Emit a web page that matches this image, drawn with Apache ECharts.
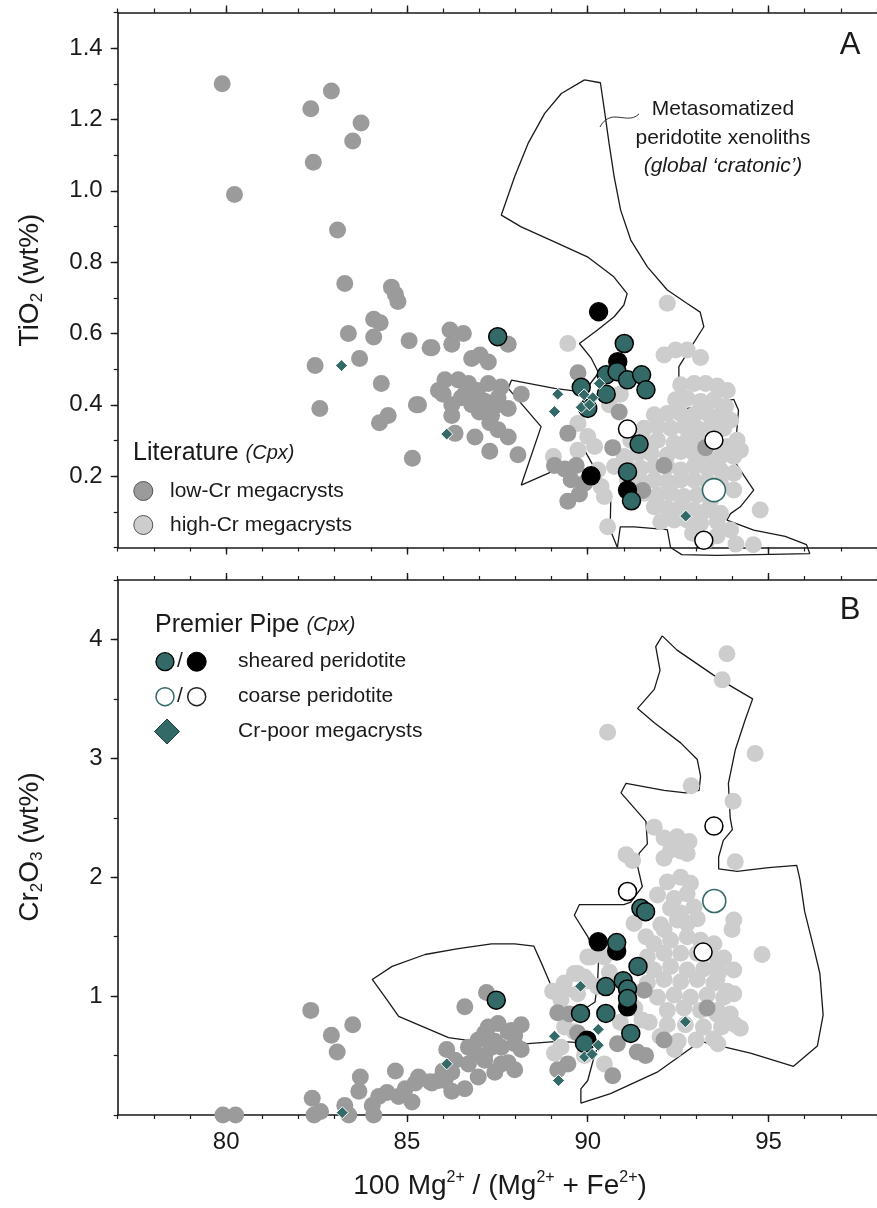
<!DOCTYPE html>
<html>
<head>
<meta charset="utf-8">
<title>Cpx TiO2 and Cr2O3 vs Mg#</title>
<script src="https://cdn.jsdelivr.net/npm/echarts@6/dist/echarts.min.js"></script>
<style>
html,body{margin:0;padding:0;background:#fff;}
#chart{width:877px;height:1208px;}
</style>
</head>
<body>
<div id="chart"></div>
<script>
// ---------- axis ticks ----------
const xMajorTicks = [80, 85, 90, 95];
const xRange = [77, 98];
const tiRange = [0, 1.5];
const crRange = [0, 4.5];

// ---------- panel A: TiO2 (wt%) ----------
// outline of the metasomatized peridotite xenolith field
const fieldA = [
[89.91,1.311],[90.35,1.303],[90.46,1.227],[90.59,1.133],[90.73,1.040],[90.91,0.946],[91.19,0.862],[91.65,0.787],
[92.20,0.722],[92.75,0.684],[93.11,0.660],[93.21,0.619],[92.52,0.507],[92.52,0.385],[93.72,0.409],[94.04,0.415],
[94.17,0.385],[94.10,0.300],[94.04,0.245],[94.22,0.217],[94.59,0.161],[94.22,0.114],[93.95,0.095],[93.85,0.077],
[94.59,0.049],[95.46,0.031],[96.05,0.008],[96.14,-0.017],[93.57,-0.022],[92.60,-0.020],[92.29,0.000],[92.20,0.050],
[91.28,0.058],[90.90,0.058],[90.82,0.000],[90.62,0.050],[90.64,0.152],[90.27,0.208],[89.91,0.273],[89.45,0.236],
[88.90,0.208],[88.16,0.175],[88.71,0.339],[87.80,0.446],[87.89,0.469],[89.08,0.446],[89.72,0.438],[90.00,0.450],
[90.30,0.490],[90.10,0.530],[89.77,0.572],[90.27,0.610],[90.73,0.647],[91.00,0.680],[91.09,0.712],[90.72,0.759],
[89.99,0.815],[89.08,0.857],[88.16,0.899],[87.61,0.932],[87.98,1.040],[88.35,1.133],[88.81,1.217],[89.27,1.273],
[89.91,1.311]
];
const lowCrA = [
[79.89,1.30],[80.23,0.99],[82.34,1.23],[82.91,1.28],[83.73,1.19],[83.50,1.14],[82.41,1.08],[83.08,0.89],
[83.28,0.74],[84.57,0.73],[84.68,0.71],[84.75,0.69],[84.08,0.64],[84.26,0.63],[83.38,0.60],[84.08,0.59],
[85.06,0.58],[85.64,0.56],[83.69,0.53],[82.46,0.51],[84.29,0.46],[85.26,0.40],[82.59,0.39],[84.48,0.37],
[84.24,0.35],[85.15,0.25],
[86.19,0.61],[86.56,0.60],[85.69,0.56],[86.24,0.57],[86.79,0.53],[87.02,0.54],[87.25,0.52],[87.80,0.57],
[86.05,0.47],[86.42,0.47],[86.70,0.46],[87.25,0.46],[88.16,0.43],[85.32,0.40],[86.24,0.40],[86.79,0.40],
[87.15,0.41],[87.52,0.40],[87.80,0.39],[86.24,0.37],[87.29,0.35],[87.52,0.33],[87.80,0.31],[86.33,0.32],
[86.88,0.31],[87.29,0.27],[88.07,0.26],[86.60,0.43],[85.87,0.44],[86.50,0.42],[86.95,0.44],[87.00,0.38],
[86.00,0.43],[87.60,0.45],[87.34,0.37],[87.52,0.42],
[89.73,0.49],[89.45,0.32],[90.87,0.38],[90.69,0.28],[89.08,0.23],[89.36,0.22],[89.68,0.23],[89.54,0.19],
[89.91,0.18],[89.45,0.13],[89.77,0.15],[91.52,0.16],[92.11,0.23],[93.26,0.28]
];
const highCrA = [
[89.45,0.572],[92.20,0.685],[92.11,0.540],[92.43,0.554],[92.75,0.554],[93.12,0.533],
[92.57,0.456],[92.94,0.460],[93.26,0.460],[93.58,0.453],[93.86,0.440],
[92.43,0.414],[92.75,0.418],[93.12,0.409],[93.49,0.414],[93.81,0.395],
[91.84,0.372],[92.20,0.376],[92.57,0.376],[92.94,0.372],[93.31,0.376],[93.67,0.372],[93.95,0.357],
[89.73,0.348],[90.00,0.311],[91.56,0.334],[91.93,0.339],[92.30,0.334],[92.66,0.339],[93.03,0.334],[93.40,0.339],[93.76,0.334],[94.13,0.301],
[91.19,0.301],[91.56,0.297],[91.93,0.301],[92.39,0.292],[92.75,0.301],[93.12,0.301],[93.86,0.283],[94.22,0.273],
[89.73,0.273],[90.19,0.283],[91.01,0.255],[91.38,0.264],[91.75,0.264],[92.20,0.259],[92.57,0.269],[92.94,0.264],[93.31,0.245],[93.67,0.255],[94.04,0.255],
[90.28,0.217],[90.74,0.227],[91.10,0.227],[91.47,0.222],[91.84,0.227],[92.20,0.227],[92.57,0.217],[92.94,0.227],[93.31,0.222],[93.67,0.217],[94.04,0.208],
[90.37,0.171],[91.10,0.189],[91.47,0.185],[91.84,0.189],[92.20,0.185],[92.57,0.189],[92.94,0.189],[93.31,0.185],[93.67,0.180],
[90.46,0.143],[91.56,0.152],[91.93,0.147],[92.30,0.152],[92.66,0.143],[93.03,0.147],[93.40,0.133],[94.04,0.161],
[91.84,0.114],[92.20,0.110],[92.57,0.114],[92.94,0.105],[93.31,0.105],[93.67,0.096],[94.77,0.105],
[90.55,0.058],[92.02,0.072],[92.39,0.077],[92.75,0.077],[93.12,0.068],[93.58,0.072],[93.95,0.049],
[93.58,0.033],[94.10,0.010],[94.58,0.008],[92.90,0.040],[93.30,0.020],
[89.05,0.255],[90.90,0.430],[90.60,0.400]
];
const shearedA = [
[87.51,0.591],[91.01,0.572],[90.51,0.484],[90.81,0.493],[91.10,0.470],[91.49,0.484],[91.61,0.442],
[89.82,0.449],[90.51,0.430],[90.00,0.390],[91.42,0.290],[91.10,0.212],[91.21,0.131]
];
const shearedBlackA = [[90.30,0.661],[90.83,0.521],[90.09,0.201],[91.10,0.161]];
const coarseA = [[91.10,0.332],[93.49,0.301],[93.21,0.020]];
const coarseTealA = [[93.49,0.161]];
const crPoorA = [
[83.19,0.510],[86.10,0.318],[89.17,0.430],[89.08,0.381],[92.71,0.088],
[89.90,0.428],[90.14,0.420],[90.32,0.460],[89.82,0.393],[90.05,0.400]
];

// ---------- panel B: Cr2O3 (wt%) ----------
const fieldB = [
[92.06,4.03],[92.47,3.91],[93.48,3.70],[93.89,3.62],[94.56,3.50],[94.35,3.32],[94.08,3.07],[93.89,2.79],
[93.94,2.50],[94.00,2.40],[93.75,2.31],[93.62,2.17],[93.62,2.07],[94.13,2.05],[95.00,2.08],[95.78,2.10],
[95.87,1.98],[96.00,1.71],[96.28,1.37],[96.42,1.19],[96.51,0.84],[96.35,0.58],[95.69,0.41],[94.50,0.52],
[93.12,0.62],[91.92,0.36],[90.63,0.18],[89.81,0.10],[89.81,0.22],[90.00,0.29],[90.14,0.45],[90.30,0.60],
[89.17,0.62],[88.35,0.60],[86.88,0.62],[86.15,0.65],[84.77,0.83],[84.40,0.99],[84.04,1.14],[84.59,1.25],
[85.50,1.35],[86.42,1.40],[87.34,1.44],[87.98,1.44],[88.51,1.42],[88.76,1.25],[88.97,1.10],[89.20,0.90],
[89.70,0.85],[90.20,0.95],[90.27,1.11],[90.30,1.30],[90.00,1.50],[89.63,1.68],[89.77,1.77],[91.00,1.77],
[91.19,1.79],[91.51,1.92],[91.38,2.09],[91.42,2.20],[91.65,2.28],[91.61,2.47],[90.92,2.71],[91.06,2.79],
[92.11,2.73],[92.71,2.71],[93.08,2.73],[93.12,2.85],[93.03,2.99],[92.57,3.13],[91.84,3.30],[91.38,3.42],
[91.84,3.58],[92.00,3.74],[91.88,3.94],[92.06,4.03]
];
const lowCrB = [
[79.91,0.00],[80.26,0.00],[82.34,0.88],[82.91,0.67],[83.07,0.53],[83.50,0.76],[83.71,0.32],[83.67,0.20],
[82.38,0.14],[82.43,0.00],[82.61,0.03],[83.28,0.08],[83.39,0.00],[84.08,0.00],[84.04,0.08],[84.22,0.155],
[84.45,0.19],[84.68,0.37],[84.77,0.155],[85.14,0.11],[84.95,0.22],[85.23,0.27],[85.64,0.28],[86.10,0.55],
[86.00,0.37],[86.05,0.29],[85.32,0.32],[85.69,0.27],
[86.60,0.91],[87.20,1.03],[86.24,0.36],[86.70,0.57],[86.97,0.63],[87.25,0.74],[87.52,0.77],[87.80,0.70],
[88.16,0.76],[86.70,0.43],[87.15,0.50],[87.61,0.57],[87.98,0.60],[86.60,0.22],[86.97,0.32],[87.43,0.36],
[87.80,0.44],[86.33,0.46],[85.87,0.29],[86.24,0.20],[86.88,0.51],[87.43,0.62],[88.16,0.55],[87.98,0.67],
[87.15,0.69],[87.89,0.71],[87.34,0.57],[87.15,0.46],[87.61,0.43],[87.98,0.38],
[89.17,0.38],[89.45,0.43],[89.49,0.85],[90.82,0.60],[90.69,0.33],[91.56,1.05],[92.11,0.63],[91.60,0.50],
[93.30,0.90],[89.72,0.69],[89.17,0.86],[91.37,0.53]
];
const highCrB = [
[93.85,3.88],[93.72,3.66],[90.55,3.22],[94.63,3.04],[92.86,2.77],[94.02,2.64],[91.84,2.42],[92.80,2.30],
[91.06,2.19],[91.24,2.14],[94.08,2.13],[94.82,1.35],
[92.11,2.33],[92.47,2.34],[92.29,2.23],[92.57,2.22],[92.11,2.16],[92.75,2.20],
[92.20,1.96],[92.57,2.00],[92.84,1.95],
[91.93,1.85],[92.39,1.82],[92.75,1.86],[92.57,1.70],[92.29,1.74],[92.94,1.75],[92.48,1.64],[93.03,1.65],
[94.04,1.64],[93.99,1.56],
[91.28,1.61],[91.61,1.50],[92.02,1.60],[92.75,1.61],[92.11,1.56],
[93.49,1.44],[93.76,1.32],[94.04,1.22],[93.62,1.20],
[93.85,1.04],[94.04,1.02],[93.94,0.85],
[91.83,1.44],[92.29,1.47],[92.75,1.50],[93.12,1.47],
[91.65,1.33],[92.11,1.36],[92.57,1.36],[93.03,1.36],[93.39,1.36],
[91.83,1.22],[92.29,1.25],[92.75,1.22],[93.21,1.23],[93.58,1.25],
[91.65,1.11],[92.11,1.14],[92.57,1.12],[93.03,1.14],[93.49,1.11],
[91.93,0.99],[92.39,1.01],[92.84,0.99],[93.30,1.01],[93.76,0.99],
[92.20,0.88],[92.66,0.90],[93.12,0.88],[93.58,0.88],
[90.00,1.33],[89.72,1.19],[89.35,1.11],[89.03,1.04],[89.26,0.97],[89.72,1.02],[90.00,1.13],[90.27,1.08],
[89.36,1.05],[89.63,1.19],[89.91,1.16],[90.09,1.33],[90.46,1.33],[90.73,1.43],
[89.36,0.74],[89.63,0.70],[89.26,0.57],[89.91,0.50],[89.08,0.52],[90.46,0.43],
[91.70,0.78],[92.20,0.76],[92.70,0.76],[93.20,0.74],[93.70,0.74],[94.22,0.73],
[92.00,0.66],[92.50,0.62],[93.00,0.63],[93.48,0.64],[94.08,0.76],[92.40,0.55],[93.60,0.60],
[93.57,1.14],[93.57,0.85],[91.30,0.90],[91.50,0.80],[90.90,0.78],[90.60,1.20]
];
const shearedB = [
[87.47,0.966],[91.47,1.738],[91.60,1.710],[90.80,1.450],[91.39,1.250],[90.50,1.080],[90.98,1.130],
[91.10,1.060],[91.10,0.980],[89.80,0.854],[90.50,0.854],[91.19,0.686],[89.91,0.602]
];
const shearedBlackB = [[90.29,1.457],[90.80,1.380],[91.10,0.910],[89.98,0.630]];
const coarseB = [[91.10,1.88],[93.19,1.37],[93.49,2.43]];
const coarseTealB = [[93.50,1.80]];
const crPoorB = [
[83.21,0.02],[86.10,0.43],[89.80,1.083],[89.08,0.663],[90.29,0.720],[90.29,0.587],[89.91,0.489],
[90.12,0.510],[92.70,0.784],[89.19,0.290]
];

// ---------- styling ----------
const FONT = '"Liberation Sans", Arial, Helvetica, sans-serif';
const INK = '#1a1a1a';
const LOW = '#9b9b9b';
const HIGH = '#cdcdcd';
const TEAL = '#336a67';

function xAxesFor(g, withLabels) {
  const common = { gridIndex: g, type: 'value', min: xRange[0], max: xRange[1], splitLine: { show: false } };
  const major = pos => Object.assign({}, common, {
    position: pos,
    axisLine: { show: true, onZero: false, lineStyle: { color: INK, width: 1.6 } },
    axisTick: { show: true, length: 7, customValues: xMajorTicks, lineStyle: { color: INK, width: 1.4 } },
    axisLabel: { show: withLabels && pos === 'bottom', customValues: xMajorTicks, margin: 15,
      fontSize: 24, color: INK, fontFamily: FONT }
  });
  const minor = pos => Object.assign({}, common, {
    position: pos, interval: 1,
    axisLine: { show: false, onZero: false },
    axisTick: { show: true, length: 4, lineStyle: { color: INK, width: 1.2 } },
    axisLabel: { show: false }
  });
  return [major('bottom'), minor('bottom'), major('top'), minor('top')];
}

function yAxesFor(g, range, step, fmt) {
  const common = { gridIndex: g, type: 'value', min: range[0], max: range[1], position: 'left', splitLine: { show: false } };
  return [
    Object.assign({}, common, {
      interval: step,
      axisLine: { show: true, onZero: false, lineStyle: { color: INK, width: 1.6 } },
      axisTick: { show: true, length: 7, lineStyle: { color: INK, width: 1.4 } },
      axisLabel: { margin: 15, fontSize: 24, color: INK, fontFamily: FONT,
        showMinLabel: false, showMaxLabel: false,
        formatter: v => (Math.abs(v) < 1e-9 || Math.abs(v - range[1]) < 1e-9 ? '' : fmt(v)) }
    }),
    Object.assign({}, common, {
      interval: step / 2,
      axisLine: { show: false, onZero: false },
      axisTick: { show: true, length: 4, lineStyle: { color: INK, width: 1.2 } },
      axisLabel: { show: false }
    })
  ];
}

function seriesFor(g, d) {
  const base = { xAxisIndex: g * 4, yAxisIndex: g * 2, silent: true };
  return [
    Object.assign({}, base, { type: 'line', data: d.field, symbol: 'none', showSymbol: false,
      lineStyle: { color: INK, width: 1.3 }, clip: false, z: 1 }),
    Object.assign({}, base, { type: 'scatter', data: d.high, symbol: 'circle', symbolSize: 17,
      itemStyle: { color: HIGH, opacity: 1 }, z: 2 }),
    Object.assign({}, base, { type: 'scatter', data: d.low, symbol: 'circle', symbolSize: 17,
      itemStyle: { color: LOW, opacity: 1 }, z: 2 }),
    Object.assign({}, base, { type: 'scatter', data: d.black, symbol: 'circle', symbolSize: 18,
      itemStyle: { color: '#000', borderColor: '#000', borderWidth: 1.4, opacity: 1 }, z: 3 }),
    Object.assign({}, base, { type: 'scatter', data: d.teal, symbol: 'circle', symbolSize: 18,
      itemStyle: { color: TEAL, borderColor: '#000', borderWidth: 1.5, opacity: 1 }, z: 3 }),
    Object.assign({}, base, { type: 'scatter', data: d.coarse, symbol: 'circle', symbolSize: 18,
      itemStyle: { color: '#fff', borderColor: '#000', borderWidth: 1.5, opacity: 1 }, z: 3 }),
    Object.assign({}, base, { type: 'scatter', data: d.coarseTeal, symbol: 'circle', symbolSize: 23,
      itemStyle: { color: '#fff', borderColor: TEAL, borderWidth: 1.6, opacity: 1 }, z: 3 }),
    Object.assign({}, base, { type: 'scatter', data: d.diamonds, symbol: 'diamond', symbolSize: [12, 12],
      itemStyle: { color: TEAL, borderColor: '#fff', borderWidth: 1, opacity: 1 }, z: 4 })
  ];
}

// text helpers for the graphic layer
function label(x, y, text, size, opts) {
  return { type: 'text', x: x, y: y, silent: true, z: 10,
    style: Object.assign({ text: text, fontSize: size, fontFamily: FONT, fill: INK,
      align: 'left', verticalAlign: 'middle', textAlign: 'left', textVerticalAlign: 'middle' }, opts || {}) };
}
const richBase = { fontSize: 28, fontFamily: FONT, fill: INK, lineHeight: 32 };
const richSub = { fontSize: 17, fontFamily: FONT, fill: INK, verticalAlign: 'bottom' };
const richSup = { fontSize: 16, fontFamily: FONT, fill: INK, verticalAlign: 'top' };

const graphic = [
  // axis titles
  { type: 'text', x: 30, y: 280, rotation: Math.PI / 2, silent: true,
    style: { text: '{a|TiO}{s|2}{a| (wt%)}', rich: { a: richBase, s: richSub },
      align: 'center', verticalAlign: 'middle', textAlign: 'center', textVerticalAlign: 'middle' } },
  { type: 'text', x: 30, y: 847, rotation: Math.PI / 2, silent: true,
    style: { text: '{a|Cr}{s|2}{a|O}{s|3}{a| (wt%)}', rich: { a: richBase, s: richSub },
      align: 'center', verticalAlign: 'middle', textAlign: 'center', textVerticalAlign: 'middle' } },
  { type: 'text', x: 500, y: 1186, silent: true,
    style: { text: '{a|100 Mg}{p|2+}{a| / (Mg}{p|2+}{a| + Fe}{p|2+}{a|)}', rich: { a: richBase, p: richSup },
      align: 'center', verticalAlign: 'middle', textAlign: 'center', textVerticalAlign: 'middle' } },
  // panel letters
  label(850, 45, 'A', 31, { align: 'center', textAlign: 'center' }),
  label(850, 610, 'B', 31, { align: 'center', textAlign: 'center' }),
  // field annotation
  label(723, 109.5, 'Metasomatized', 21, { align: 'center', textAlign: 'center' }),
  label(723, 138.5, 'peridotite xenoliths', 21, { align: 'center', textAlign: 'center' }),
  label(723, 166.5, '(global \u2018cratonic\u2019)', 21, { align: 'center', textAlign: 'center', fontStyle: 'italic' }),
  { type: 'bezierCurve', silent: true, z: 10,
    shape: { x1: 600, y1: 127, cpx1: 603, cpy1: 121, cpx2: 608, cpy2: 117, x2: 615, y2: 117 },
    style: { stroke: '#333', lineWidth: 1, fill: null } },
  { type: 'bezierCurve', silent: true, z: 10,
    shape: { x1: 615, y1: 117, cpx1: 623, cpy1: 117, cpx2: 632, cpy2: 121, x2: 639, y2: 114 },
    style: { stroke: '#333', lineWidth: 1, fill: null } },
  // legend, panel A
  { type: 'text', x: 133, y: 453.5, silent: true, z: 10,
    style: { text: '{h|Literature }{i|(Cpx)}', fontSize: 25, fontFamily: FONT, fill: INK,
      rich: { h: { fontSize: 25, fontFamily: FONT, fill: INK },
              i: { fontSize: 20, fontFamily: FONT, fill: INK, fontStyle: 'italic' } },
      align: 'left', verticalAlign: 'middle', textAlign: 'left', textVerticalAlign: 'middle' } },
  { type: 'circle', silent: true, z: 10, shape: { cx: 143.3, cy: 491, r: 9.5 },
    style: { fill: LOW, stroke: '#555', lineWidth: 1 } },
  label(170, 491, 'low-Cr megacrysts', 21),
  { type: 'circle', silent: true, z: 10, shape: { cx: 143.3, cy: 525, r: 9.5 },
    style: { fill: HIGH, stroke: '#555', lineWidth: 1 } },
  label(170, 525, 'high-Cr megacrysts', 21),
  // legend, panel B
  { type: 'text', x: 155, y: 625, silent: true, z: 10,
    style: { text: '{h|Premier Pipe }{i|(Cpx)}', fontSize: 25, fontFamily: FONT, fill: INK,
      rich: { h: { fontSize: 25, fontFamily: FONT, fill: INK },
              i: { fontSize: 20, fontFamily: FONT, fill: INK, fontStyle: 'italic' } },
      align: 'left', verticalAlign: 'middle', textAlign: 'left', textVerticalAlign: 'middle' } },
  { type: 'circle', silent: true, z: 10, shape: { cx: 165, cy: 661.7, r: 9 },
    style: { fill: TEAL, stroke: '#000', lineWidth: 1.3 } },
  label(180, 661.7, '/', 21, { align: 'center', textAlign: 'center' }),
  { type: 'circle', silent: true, z: 10, shape: { cx: 196.7, cy: 661.7, r: 9.5 },
    style: { fill: '#000', stroke: '#000', lineWidth: 1 } },
  label(238, 661.7, 'sheared peridotite', 21),
  { type: 'circle', silent: true, z: 10, shape: { cx: 165, cy: 696.7, r: 9 },
    style: { fill: '#fff', stroke: TEAL, lineWidth: 1.5 } },
  label(180, 696.7, '/', 21, { align: 'center', textAlign: 'center' }),
  { type: 'circle', silent: true, z: 10, shape: { cx: 196.7, cy: 696.7, r: 9 },
    style: { fill: '#fff', stroke: '#222', lineWidth: 1.5 } },
  label(238, 696.7, 'coarse peridotite', 21),
  { type: 'polygon', silent: true, z: 10,
    shape: { points: [[167, 719], [179.5, 731.5], [167, 744], [154.5, 731.5]] },
    style: { fill: TEAL, stroke: '#1e3f3d', lineWidth: 1 } },
  label(238, 731.5, 'Cr-poor megacrysts', 21)
];

const chart = echarts.init(document.getElementById('chart'), null, { renderer: 'canvas' });
chart.setOption({
  animation: false,
  backgroundColor: '#fff',
  textStyle: { fontFamily: FONT },
  grid: [
    { left: 117.7, top: 12.5, width: 763, height: 535 },
    { left: 117.7, top: 580, width: 763, height: 535 }
  ],
  xAxis: [].concat(xAxesFor(0, false), xAxesFor(1, true)),
  yAxis: [].concat(yAxesFor(0, tiRange, 0.2, v => v.toFixed(1)), yAxesFor(1, crRange, 1, v => String(v))),
  series: [].concat(
    seriesFor(0, { field: fieldA, low: lowCrA, high: highCrA, teal: shearedA, black: shearedBlackA,
      coarse: coarseA, coarseTeal: coarseTealA, diamonds: crPoorA }),
    seriesFor(1, { field: fieldB, low: lowCrB, high: highCrB, teal: shearedB, black: shearedBlackB,
      coarse: coarseB, coarseTeal: coarseTealB, diamonds: crPoorB })
  ),
  graphic: graphic
});
</script>
</body>
</html>
